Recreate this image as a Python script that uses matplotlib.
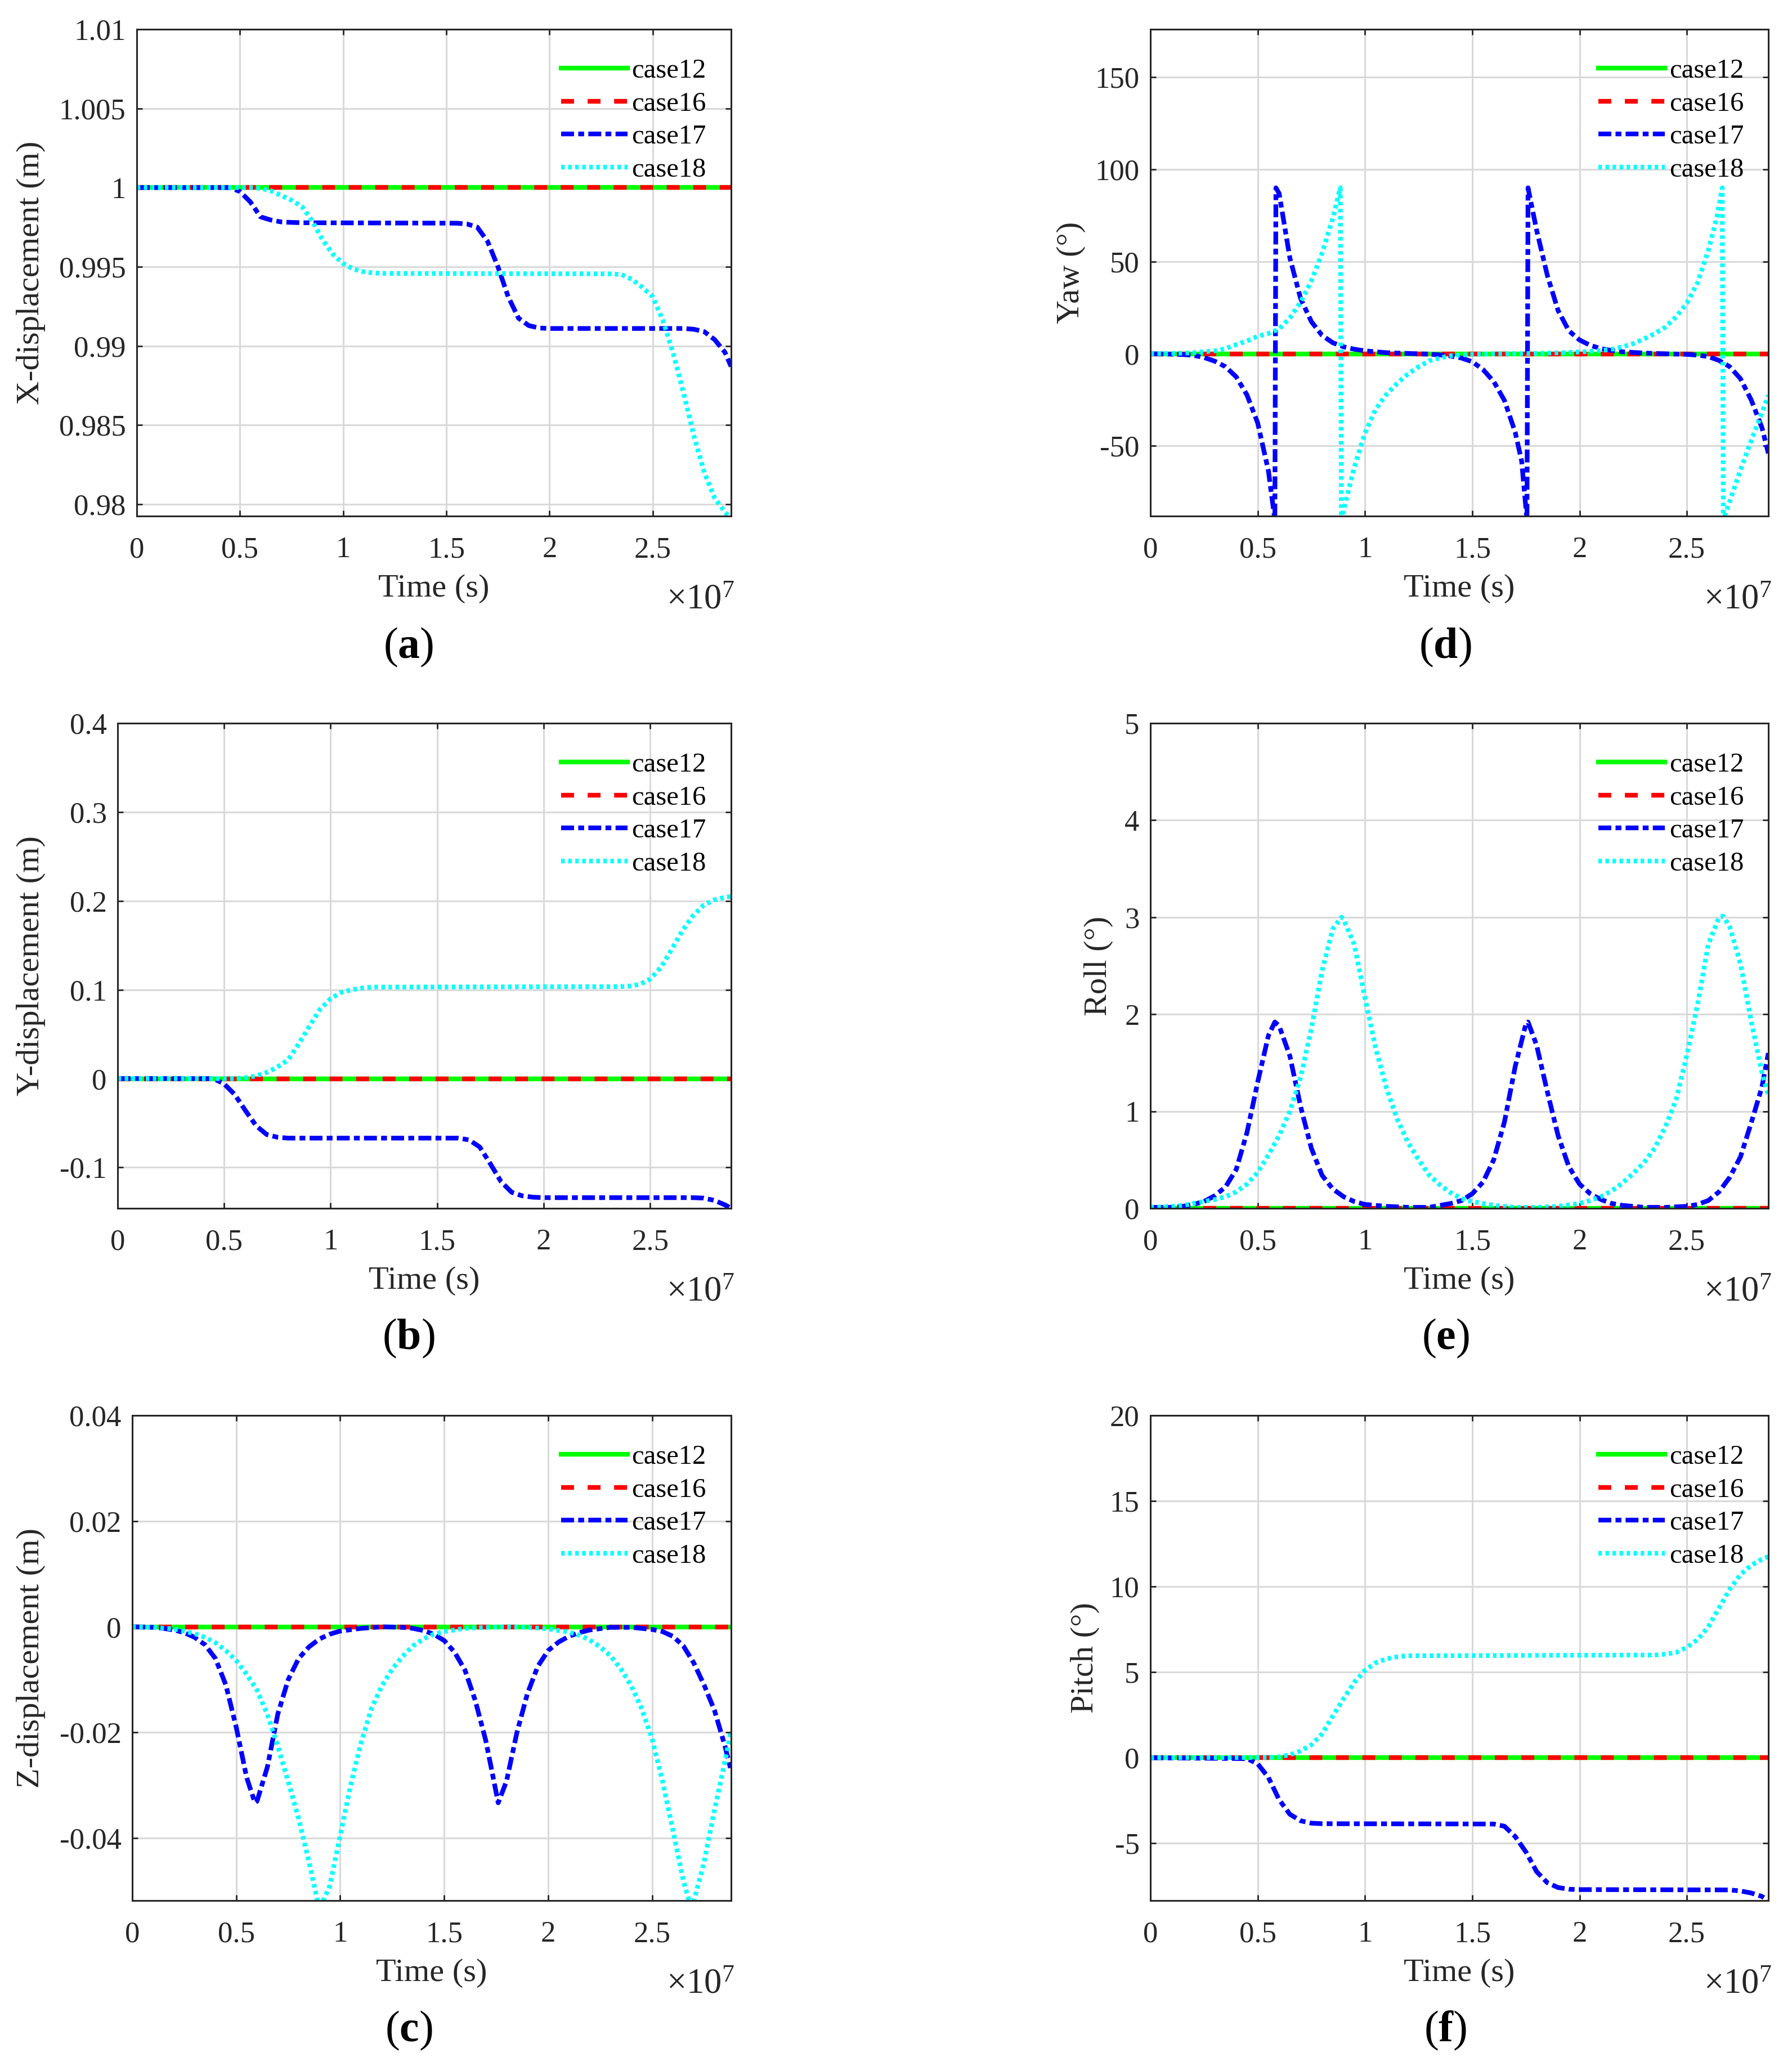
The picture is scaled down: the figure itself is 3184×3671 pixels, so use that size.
import numpy as np
import matplotlib
matplotlib.use('Agg')
import matplotlib.pyplot as plt
from matplotlib.ticker import FuncFormatter

plt.rcParams['font.family'] = ['Liberation Serif', 'DejaVu Serif']
plt.rcParams['mathtext.fontset'] = 'custom'
plt.rcParams['mathtext.rm'] = 'Liberation Serif'
plt.rcParams['mathtext.it'] = 'Liberation Serif:italic'
plt.rcParams['mathtext.bf'] = 'Liberation Serif:bold'

# ---- data (time in units of 1e7 s) ----
T_END = 2.88
labels = ['case12', 'case16', 'case17', 'case18']

# (a) X-displacement (m)
t_x17 = [0, 0.45, 0.5, 0.55, 0.6, 0.65, 0.7, 0.75, 0.8, 1.55, 1.6, 1.65, 1.7, 1.75, 1.8,
         1.85, 1.9, 1.95, 2.0, 2.65, 2.7, 2.75, 2.8, 2.85, 2.88]
x17 = [1.0, 1.0, 0.99975, 0.9991, 0.99815, 0.99795, 0.99783, 0.9978, 0.99778, 0.99775,
       0.9977, 0.9975, 0.9966, 0.9950, 0.9931, 0.99175, 0.99128, 0.99113, 0.9911, 0.9911,
       0.99105, 0.9909, 0.9904, 0.9896, 0.9887]
t_x18 = [0, 0.55, 0.6, 0.65, 0.7, 0.75, 0.8, 0.85, 0.9, 0.95, 1.0, 1.05, 1.1, 1.15, 1.2,
         2.3, 2.35, 2.4, 2.45, 2.5, 2.55, 2.6, 2.65, 2.7, 2.75, 2.8, 2.85, 2.88]
x18 = [1.0, 1.0, 0.99995, 0.9998, 0.9995, 0.9992, 0.9988, 0.9979, 0.9967, 0.9958, 0.9952,
       0.99485, 0.99468, 0.9946, 0.99458, 0.99455, 0.9945, 0.9942, 0.9937, 0.9931, 0.9916,
       0.9895, 0.9870, 0.9843, 0.9820, 0.9804, 0.9795, 0.9791]

# (b) Y-displacement (m)
t_y17d = [0, 0.45, 0.5, 0.55, 0.6, 0.65, 0.7, 0.75, 0.8, 1.6, 1.65, 1.7, 1.75, 1.8, 1.85,
          1.9, 1.95, 2.0, 2.7, 2.75, 2.8, 2.85, 2.88]
y17d = [0, 0, -0.006, -0.018, -0.036, -0.053, -0.063, -0.066, -0.067, -0.067, -0.069,
        -0.077, -0.096, -0.116, -0.128, -0.132, -0.1335, -0.134, -0.134, -0.1345, -0.137,
        -0.142, -0.146]
t_y18d = [0, 0.55, 0.6, 0.65, 0.7, 0.75, 0.8, 0.85, 0.9, 0.95, 1.0, 1.05, 1.1, 1.15, 1.2,
          2.35, 2.4, 2.45, 2.5, 2.55, 2.6, 2.65, 2.7, 2.75, 2.8, 2.85, 2.88]
y18d = [0, 0, 0.001, 0.003, 0.007, 0.013, 0.021, 0.039, 0.059, 0.078, 0.090, 0.097, 0.100,
        0.102, 0.103, 0.1035, 0.104, 0.106, 0.112, 0.125, 0.145, 0.166, 0.183, 0.195, 0.201,
        0.204, 0.205]

# (c) Z-displacement (m)
t_z17 = [0, 0.1, 0.15, 0.2, 0.25, 0.3, 0.35, 0.4, 0.45, 0.5, 0.55, 0.59, 0.6, 0.65, 0.7,
         0.75, 0.8, 0.85, 0.9, 0.95, 1.0, 1.1, 1.2, 1.3, 1.35, 1.4, 1.45, 1.5, 1.55, 1.6,
         1.65, 1.7, 1.76, 1.8, 1.85, 1.9, 1.95, 2.0, 2.05, 2.1, 2.15, 2.2, 2.3, 2.4, 2.5,
         2.55, 2.6, 2.65, 2.7, 2.75, 2.8, 2.85, 2.88]
z17 = [0, -0.0001, -0.0003, -0.0006, -0.0011, -0.0020, -0.0034, -0.0060, -0.0110, -0.0190,
       -0.0285, -0.0333, -0.0330, -0.0265, -0.0165, -0.0100, -0.0060, -0.0038, -0.0023,
       -0.0014, -0.0008, -0.0003, 0, -0.0001, -0.0003, -0.0007, -0.0014, -0.0026, -0.0048,
       -0.0082, -0.0140, -0.0215, -0.0333, -0.0292, -0.0200, -0.0127, -0.0075, -0.0045,
       -0.0029, -0.0018, -0.0011, -0.0006, -0.0001, -0.0001, -0.0005, -0.0009, -0.0018,
       -0.0036, -0.0068, -0.0110, -0.0158, -0.0225, -0.0272]
t_z18 = [0, 0.1, 0.2, 0.3, 0.35, 0.4, 0.45, 0.5, 0.55, 0.6, 0.65, 0.7, 0.75, 0.8, 0.85,
         0.9, 0.95, 1.0, 1.05, 1.1, 1.15, 1.2, 1.25, 1.3, 1.35, 1.4, 1.45, 1.5, 1.6, 1.7,
         1.8, 1.9, 2.0, 2.1, 2.15, 2.2, 2.25, 2.3, 2.35, 2.4, 2.45, 2.5, 2.55, 2.6, 2.65,
         2.69, 2.75, 2.8, 2.85, 2.88]
z18 = [0, -0.0001, -0.0004, -0.0013, -0.0020, -0.0030, -0.0045, -0.0064, -0.0090, -0.0120,
       -0.0166, -0.0226, -0.0293, -0.0363, -0.0445, -0.0535, -0.0490, -0.0395, -0.0300,
       -0.0220, -0.0155, -0.0112, -0.0080, -0.0056, -0.0036, -0.0023, -0.0014, -0.0009,
       -0.0003, -0.0001, 0, -0.0001, -0.0004, -0.0010, -0.0016, -0.0025, -0.0038, -0.0055,
       -0.0080, -0.0112, -0.0155, -0.0212, -0.0292, -0.0385, -0.0480, -0.0535, -0.0445,
       -0.0347, -0.0255, -0.0196]

# (d) Yaw (deg)
t_yaw17 = [0, 0.1, 0.15, 0.2, 0.25, 0.3, 0.35, 0.4, 0.45, 0.5, 0.55, 0.58, 0.585, 0.6, 0.65,
           0.7, 0.75, 0.8, 0.85, 0.9, 0.95, 1.0, 1.1, 1.2, 1.3, 1.35, 1.4, 1.45, 1.5, 1.55,
           1.6, 1.65, 1.7, 1.73, 1.755, 1.76, 1.8, 1.85, 1.9, 1.95, 2.0, 2.05, 2.1, 2.15,
           2.2, 2.3, 2.4, 2.5, 2.55, 2.6, 2.65, 2.7, 2.75, 2.8, 2.85, 2.88]
yaw17 = [0, -0.2, -0.4, -0.8, -2.0, -4.0, -7.0, -12.5, -22.3, -37.5, -63.5, -90, 90, 87, 52,
         30, 17.5, 10, 6, 3.8, 2.5, 1.6, 0.6, 0.2, -0.2, -0.6, -1.2, -2.3, -4.3, -8.5,
         -15, -25.3, -42.5, -58, -90, 90, 67, 42.5, 23.5, 12.5, 7.5, 4.6, 2.8, 1.8, 1.1,
         0.4, 0, -0.3, -0.7, -1.5, -3.6, -7.0, -13.5, -25, -40, -54]
t_yaw18 = [0, 0.1, 0.2, 0.3, 0.35, 0.4, 0.45, 0.5, 0.55, 0.6, 0.65, 0.7, 0.75, 0.8, 0.85,
           0.885, 0.89, 0.9, 0.95, 1.0, 1.05, 1.1, 1.15, 1.2, 1.25, 1.3, 1.35, 1.4, 1.5,
           1.6, 1.8, 1.9, 2.0, 2.05, 2.1, 2.15, 2.2, 2.25, 2.3, 2.35, 2.4, 2.45, 2.5, 2.55,
           2.6, 2.64, 2.665, 2.67, 2.7, 2.75, 2.8, 2.85, 2.88]
yaw18 = [0, 0.2, 0.6, 1.6, 2.8, 5.0, 7.0, 9.5, 11.0, 13.5, 19.5, 28.0, 39.5, 54.5, 73.5, 90,
         -90, -85, -61.5, -43, -30, -22, -16, -11, -7, -3.8, -2.2, -1.0, -0.3, 0, 0.2, 0.5,
         1.0, 1.3, 1.8, 2.5, 3.8, 5.5, 8.0, 11.0, 14.5, 20.0, 27.5, 38.5, 56.0, 74.0, 90,
         -90, -80, -63, -47, -32, -22.5]

# (e) Roll (deg)
t_roll17 = [0, 0.1, 0.15, 0.2, 0.25, 0.3, 0.35, 0.4, 0.45, 0.5, 0.55, 0.58, 0.6, 0.65, 0.7,
            0.75, 0.8, 0.85, 0.9, 0.95, 1.0, 1.1, 1.2, 1.3, 1.35, 1.4, 1.45, 1.5, 1.55, 1.6,
            1.65, 1.7, 1.75, 1.76, 1.8, 1.85, 1.9, 1.95, 2.0, 2.05, 2.1, 2.15, 2.2, 2.3,
            2.4, 2.5, 2.55, 2.6, 2.65, 2.7, 2.75, 2.8, 2.85, 2.88]
roll17 = [0.01, 0.01, 0.02, 0.04, 0.07, 0.13, 0.22, 0.40, 0.78, 1.30, 1.78, 1.92, 1.88,
          1.57, 1.05, 0.62, 0.34, 0.20, 0.12, 0.07, 0.04, 0.02, 0.01, 0.01, 0.03, 0.05,
          0.08, 0.15, 0.27, 0.50, 0.89, 1.46, 1.90, 1.92, 1.68, 1.20, 0.75, 0.43, 0.25,
          0.15, 0.09, 0.05, 0.03, 0.01, 0.01, 0.02, 0.04, 0.08, 0.17, 0.32, 0.53, 0.88,
          1.25, 1.60]
t_roll18 = [0, 0.1, 0.15, 0.2, 0.25, 0.3, 0.35, 0.4, 0.45, 0.5, 0.55, 0.6, 0.65, 0.7, 0.75,
            0.8, 0.85, 0.89, 0.9, 0.95, 1.0, 1.05, 1.1, 1.15, 1.2, 1.25, 1.3, 1.35, 1.4,
            1.45, 1.5, 1.6, 1.7, 1.8, 1.9, 2.0, 2.05, 2.1, 2.15, 2.2, 2.25, 2.3, 2.35, 2.4,
            2.45, 2.5, 2.55, 2.6, 2.65, 2.67, 2.7, 2.75, 2.8, 2.85, 2.88]
roll18 = [0.01, 0.02, 0.03, 0.05, 0.07, 0.09, 0.12, 0.17, 0.25, 0.37, 0.55, 0.75, 1.00,
          1.35, 1.85, 2.45, 2.88, 3.00, 2.98, 2.72, 2.17, 1.65, 1.24, 0.92, 0.68, 0.50,
          0.34, 0.24, 0.16, 0.10, 0.07, 0.03, 0.01, 0.01, 0.02, 0.05, 0.08, 0.12, 0.18,
          0.26, 0.36, 0.47, 0.62, 0.84, 1.12, 1.58, 2.10, 2.72, 3.00, 3.01, 2.90, 2.52,
          1.93, 1.40, 1.16]

# (f) Pitch (deg)
t_p17 = [0, 0.45, 0.5, 0.55, 0.6, 0.65, 0.7, 0.75, 0.8, 1.6, 1.65, 1.7, 1.75, 1.8, 1.85,
         1.9, 1.95, 2.0, 2.7, 2.75, 2.8, 2.85, 2.88]
p17 = [0, -0.05, -0.35, -1.15, -2.45, -3.3, -3.68, -3.82, -3.85, -3.87, -4.0, -4.6, -5.5,
       -6.65, -7.3, -7.58, -7.68, -7.7, -7.72, -7.78, -7.9, -8.1, -8.33]
t_p18 = [0, 0.55, 0.6, 0.65, 0.7, 0.75, 0.8, 0.85, 0.9, 0.95, 1.0, 1.05, 1.1, 1.15, 1.2,
         2.35, 2.4, 2.45, 2.5, 2.55, 2.6, 2.65, 2.7, 2.75, 2.8, 2.85, 2.88]
p18 = [0, 0.02, 0.06, 0.17, 0.4, 0.75, 1.4, 2.44, 3.45, 4.4, 5.1, 5.55, 5.78, 5.9, 5.96,
       6.0, 6.05, 6.15, 6.45, 6.9, 7.65, 8.75, 9.85, 10.7, 11.25, 11.6, 11.75]

# ---- layout (pixels in the 3184 x 3671 output) ----
W, H = 3184, 3671
INK = '#262626'

panels = [
    dict(tag='a', box=(243, 1299, 52, 917), ylim=(0.97925, 1.01),
         yticks=[0.98, 0.985, 0.99, 0.995, 1, 1.005, 1.01], ylabel='X-displacement (m)',
         ylab_x=55, base=1.0, s17=(t_x17, x17), s18=(t_x18, x18), cap=(726, 1150)),
    dict(tag='d', box=(2044, 3142, 52, 917), ylim=(-88, 176),
         yticks=[-50, 0, 50, 100, 150], ylabel='Yaw (°)',
         ylab_x=1903, base=0.0, s17=(t_yaw17, yaw17), s18=(t_yaw18, yaw18), cap=(2568, 1150)),
    dict(tag='b', box=(209, 1299, 1285, 2147), ylim=(-0.146, 0.4),
         yticks=[-0.1, 0, 0.1, 0.2, 0.3, 0.4], ylabel='Y-displacement (m)',
         ylab_x=55, base=0.0, s17=(t_y17d, y17d), s18=(t_y18d, y18d), cap=(726, 2378)),
    dict(tag='e', box=(2044, 3142, 1285, 2147), ylim=(0, 5),
         yticks=[0, 1, 2, 3, 4, 5], ylabel='Roll (°)',
         ylab_x=1952, base=0.0, s17=(t_roll17, roll17), s18=(t_roll18, roll18), cap=(2568, 2378)),
    dict(tag='c', box=(235, 1299, 2515, 3377), ylim=(-0.0518, 0.04),
         yticks=[-0.04, -0.02, 0, 0.02, 0.04], ylabel='Z-displacement (m)',
         ylab_x=55, base=0.0, s17=(t_z17, z17), s18=(t_z18, z18), cap=(726, 3608)),
    dict(tag='f', box=(2044, 3142, 2515, 3377), ylim=(-8.34, 20),
         yticks=[-5, 0, 5, 10, 15, 20], ylabel='Pitch (°)',
         ylab_x=1928, base=0.0, s17=(t_p17, p17), s18=(t_p18, p18), cap=(2568, 3608)),
]

LW = 6
styles = [
    dict(color='#00ff00', linestyle='-'),
    dict(color='#ff0000', linestyle=(0, (2.75, 2.9))),
    dict(color='#0000ff', linestyle=(0, (2.75, 0.9, 1.25, 0.9))),
    dict(color='#00ffff', linestyle=(0, (0.75, 0.75))),
]

fmt = FuncFormatter(lambda v, p: '%g' % round(v, 6))
xfmt = FuncFormatter(lambda v, p: '%g' % round(v / 1e7, 6))

fig = plt.figure(figsize=(W / 100, H / 100), dpi=100)

for p in panels:
    L, R, T, B = p['box']
    w, h = R - L, B - T
    ax = fig.add_axes([L / W, 1 - B / H, w / W, h / H])

    t_flat = np.array([0, T_END]) * 1e7
    ax.plot(t_flat, [p['base'], p['base']], lw=LW, label=labels[0], **styles[0])
    ax.plot(t_flat, [p['base'], p['base']], lw=LW, label=labels[1], **styles[1])
    t17, v17 = p['s17']
    t18, v18 = p['s18']
    ax.plot(np.array(t17) * 1e7, v17, lw=LW, label=labels[2], **styles[2])
    ax.plot(np.array(t18) * 1e7, v18, lw=LW, label=labels[3], **styles[3])

    ax.set_xlim(0, T_END * 1e7)
    ax.set_ylim(*p['ylim'])
    ax.set_xticks(np.array([0, 0.5, 1, 1.5, 2, 2.5]) * 1e7)
    ax.set_yticks(p['yticks'])
    ax.xaxis.set_major_formatter(xfmt)
    ax.yaxis.set_major_formatter(fmt)

    ax.set_axisbelow(True)
    ax.grid(True, color='#d9d9d9', lw=2.2)
    for sp in ax.spines.values():
        sp.set_linewidth(2.2)
        sp.set_color(INK)
    ax.tick_params(direction='in', length=7, width=2, top=True, right=True,
                   labelsize=38, colors=INK)
    ax.tick_params(axis='x', pad=26)
    ax.tick_params(axis='y', pad=14)

    ax.set_xlabel('Time (s)', fontsize=42, color=INK, va='center')
    ax.xaxis.set_label_coords(0.5, -129 / h)
    ax.set_ylabel(p['ylabel'], fontsize=42, color=INK, va='center')
    ax.yaxis.set_label_coords((p['ylab_x'] - L) / w, 0.5)

    ax.text(1 + 6 / w, -150 / h, r'×10$^{7}$', transform=ax.transAxes,
            ha='right', va='center', fontsize=45, color=INK)

    ax.legend(loc='upper right', bbox_to_anchor=(1 - 44 / w, 1 - 52 / h), frameon=False,
              fontsize=35, handlelength=2.43, handletextpad=0.16, labelspacing=0.3,
              borderpad=0, borderaxespad=0)

    cx, cy = p['cap']
    fig.text(cx / W, 1 - cy / H, r'($\mathbf{%s}$)' % p['tag'], fontsize=56,
             ha='center', va='center', color='black')

fig.savefig('out.png', dpi=100, facecolor='white')
